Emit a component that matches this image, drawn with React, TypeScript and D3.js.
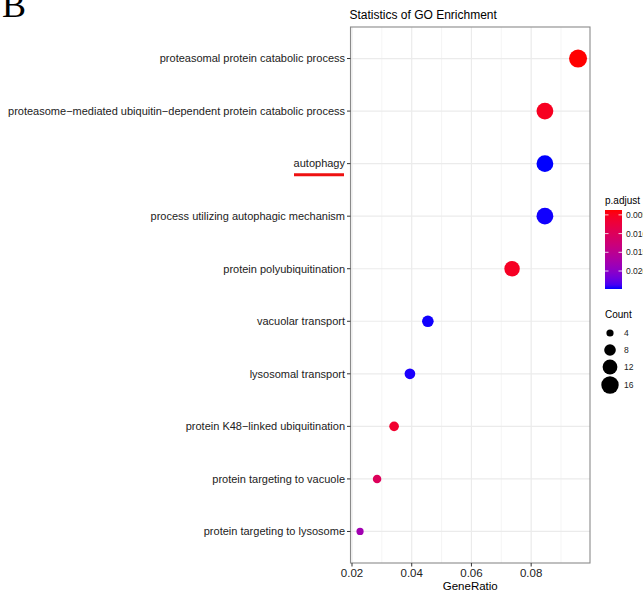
import React, { useRef, useEffect } from 'react';
import * as d3 from 'd3';

// GO terms, top to bottom
const terms = [
  "proteasomal protein catabolic process",
  "proteasome\u2212mediated ubiquitin\u2212dependent protein catabolic process",
  "autophagy",
  "process utilizing autophagic mechanism",
  "protein polyubiquitination",
  "vacuolar transport",
  "lysosomal transport",
  "protein K48\u2212linked ubiquitination",
  "protein targeting to vacuole",
  "protein targeting to lysosome",
];
const geneRatio = [0.0957, 0.0846, 0.0846, 0.0846, 0.0736, 0.0454, 0.0394, 0.0341, 0.0284, 0.0227];
const counts = [17, 15, 15, 15, 13, 8, 7, 6, 5, 4];
const pAdjust = [0.0037, 0.0052, 0.0248, 0.0247, 0.0054, 0.0247, 0.0246, 0.0062, 0.0100, 0.0180];

const xTicks = [0.02, 0.04, 0.06, 0.08];
const xMinor = [0.03, 0.05, 0.07, 0.09];
const pTicks = [0.005, 0.010, 0.015, 0.020];
const countKeys = [4, 8, 12, 16];

function App() {
  const ref = useRef(null);

  useEffect(() => {
    const svg = d3.select(ref.current);
    svg.selectAll("*").remove();
    const font = "'Liberation Sans', Arial, sans-serif";

    const left = 350.5, right = 590, top = 27, bottom = 563;

    const x = d3.scaleLinear().domain([0.0195, 0.0997]).range([left, right]);
    const y = d3.scalePoint().domain(terms).range([top, bottom]).padding(0.6);
    const pMin = d3.min(pAdjust), pMax = d3.max(pAdjust);
    const color = d3.scaleLinear().domain([pMin, pMax]).range(["red", "blue"]).interpolate(d3.interpolateLab);
    const area = d3.scaleLinear().domain([4, 17]).range([3.6 * 3.6, 9 * 9]);
    const r = (c) => Math.sqrt(area(c));

    // figure letter
    svg.append("text").attr("x", 2).attr("y", 17).attr("font-family", "'Liberation Serif', 'Times New Roman', serif")
      .attr("font-size", 36).attr("fill", "#000").text("B");

    // title
    svg.append("text").attr("x", left - 1).attr("y", 19).attr("font-family", font)
      .attr("font-size", 12).attr("fill", "#000").text("Statistics of GO Enrichment");

    // grid
    const g = svg.append("g");
    g.selectAll(".minor").data(xMinor).enter().append("line")
      .attr("x1", d => x(d)).attr("x2", d => x(d)).attr("y1", top).attr("y2", bottom)
      .attr("stroke", "#F2F2F2").attr("stroke-width", 0.8);
    g.selectAll(".major").data(xTicks).enter().append("line")
      .attr("x1", d => x(d)).attr("x2", d => x(d)).attr("y1", top).attr("y2", bottom)
      .attr("stroke", "#EBEBEB").attr("stroke-width", 1.2);
    g.selectAll(".hmajor").data(terms).enter().append("line")
      .attr("x1", left).attr("x2", right).attr("y1", d => y(d)).attr("y2", d => y(d))
      .attr("stroke", "#EBEBEB").attr("stroke-width", 1.2);

    // points
    const idx = d3.range(terms.length);
    svg.selectAll(".dot").data(idx).enter().append("circle")
      .attr("cx", i => x(geneRatio[i])).attr("cy", i => y(terms[i]))
      .attr("r", i => r(counts[i])).attr("fill", i => color(pAdjust[i]));

    // panel border
    svg.append("rect").attr("x", left).attr("y", top).attr("width", right - left).attr("height", bottom - top)
      .attr("fill", "none").attr("stroke", "#8a8a8a").attr("stroke-width", 1.1);

    // y axis
    const ya = svg.append("g");
    ya.selectAll("line").data(terms).enter().append("line")
      .attr("x1", left - 3.5).attr("x2", left).attr("y1", d => y(d)).attr("y2", d => y(d))
      .attr("stroke", "#333").attr("stroke-width", 1);
    ya.selectAll("text").data(terms).enter().append("text")
      .attr("x", left - 5.5).attr("y", d => y(d)).attr("dy", "0.35em").attr("text-anchor", "end")
      .attr("font-family", font).attr("font-size", 11).attr("fill", "#222").text(d => d);

    // red underline on autophagy
    svg.append("line").attr("x1", 294).attr("x2", 344).attr("y1", y("autophagy") + 11).attr("y2", y("autophagy") + 11)
      .attr("stroke", "#ee1111").attr("stroke-width", 3);

    // x axis
    const xa = svg.append("g");
    xa.selectAll("line").data(xTicks).enter().append("line")
      .attr("x1", d => x(d)).attr("x2", d => x(d)).attr("y1", bottom).attr("y2", bottom + 3.5)
      .attr("stroke", "#333").attr("stroke-width", 1);
    xa.selectAll("text").data(xTicks).enter().append("text")
      .attr("x", d => x(d)).attr("y", bottom + 14).attr("text-anchor", "middle")
      .attr("font-family", font).attr("font-size", 11.5).attr("fill", "#222").text(d => d3.format(".2f")(d));
    svg.append("text").attr("x", (left + right) / 2).attr("y", 590).attr("text-anchor", "middle")
      .attr("font-family", font).attr("font-size", 11.5).attr("fill", "#000").text("GeneRatio");

    // p.adjust colorbar
    const cbX = 605, cbW = 17, cbTop = 210, cbBot = 289;
    const cy = d3.scaleLinear().domain([pMin, pMax]).range([cbTop, cbBot]);
    svg.append("text").attr("x", cbX).attr("y", 204).attr("font-family", font)
      .attr("font-size", 10).attr("fill", "#000").text("p.adjust");
    const defs = svg.append("defs");
    const grad = defs.append("linearGradient").attr("id", "pgrad").attr("x1", 0).attr("x2", 0).attr("y1", 0).attr("y2", 1);
    d3.range(0, 1.0001, 0.05).forEach(t => {
      grad.append("stop").attr("offset", t).attr("stop-color", color(pMin + t * (pMax - pMin)));
    });
    svg.append("rect").attr("x", cbX).attr("y", cbTop).attr("width", cbW).attr("height", cbBot - cbTop)
      .attr("fill", "url(#pgrad)");
    pTicks.forEach(t => {
      svg.append("line").attr("x1", cbX).attr("x2", cbX + 3.5).attr("y1", cy(t)).attr("y2", cy(t))
        .attr("stroke", "#fff").attr("stroke-width", 0.8);
      svg.append("line").attr("x1", cbX + cbW - 3.5).attr("x2", cbX + cbW).attr("y1", cy(t)).attr("y2", cy(t))
        .attr("stroke", "#fff").attr("stroke-width", 0.8);
      svg.append("text").attr("x", cbX + cbW + 4).attr("y", cy(t)).attr("dy", "0.35em")
        .attr("font-family", font).attr("font-size", 8.5).attr("fill", "#222").text(d3.format(".3f")(t));
    });

    // Count legend
    svg.append("text").attr("x", cbX).attr("y", 318).attr("font-family", font)
      .attr("font-size", 10).attr("fill", "#000").text("Count");
    const keyY = [333, 350, 367, 385];
    countKeys.forEach((c, i) => {
      svg.append("circle").attr("cx", 610).attr("cy", keyY[i]).attr("r", r(c)).attr("fill", "#000");
      svg.append("text").attr("x", 624).attr("y", keyY[i]).attr("dy", "0.35em")
        .attr("font-family", font).attr("font-size", 8.5).attr("fill", "#222").text(c);
    });
  }, []);

  return (
    <svg ref={ref} width={643} height={593}
      style={{ position: "absolute", left: 0, top: 0, background: "#fff" }}>
    </svg>
  );
}

export default App;
